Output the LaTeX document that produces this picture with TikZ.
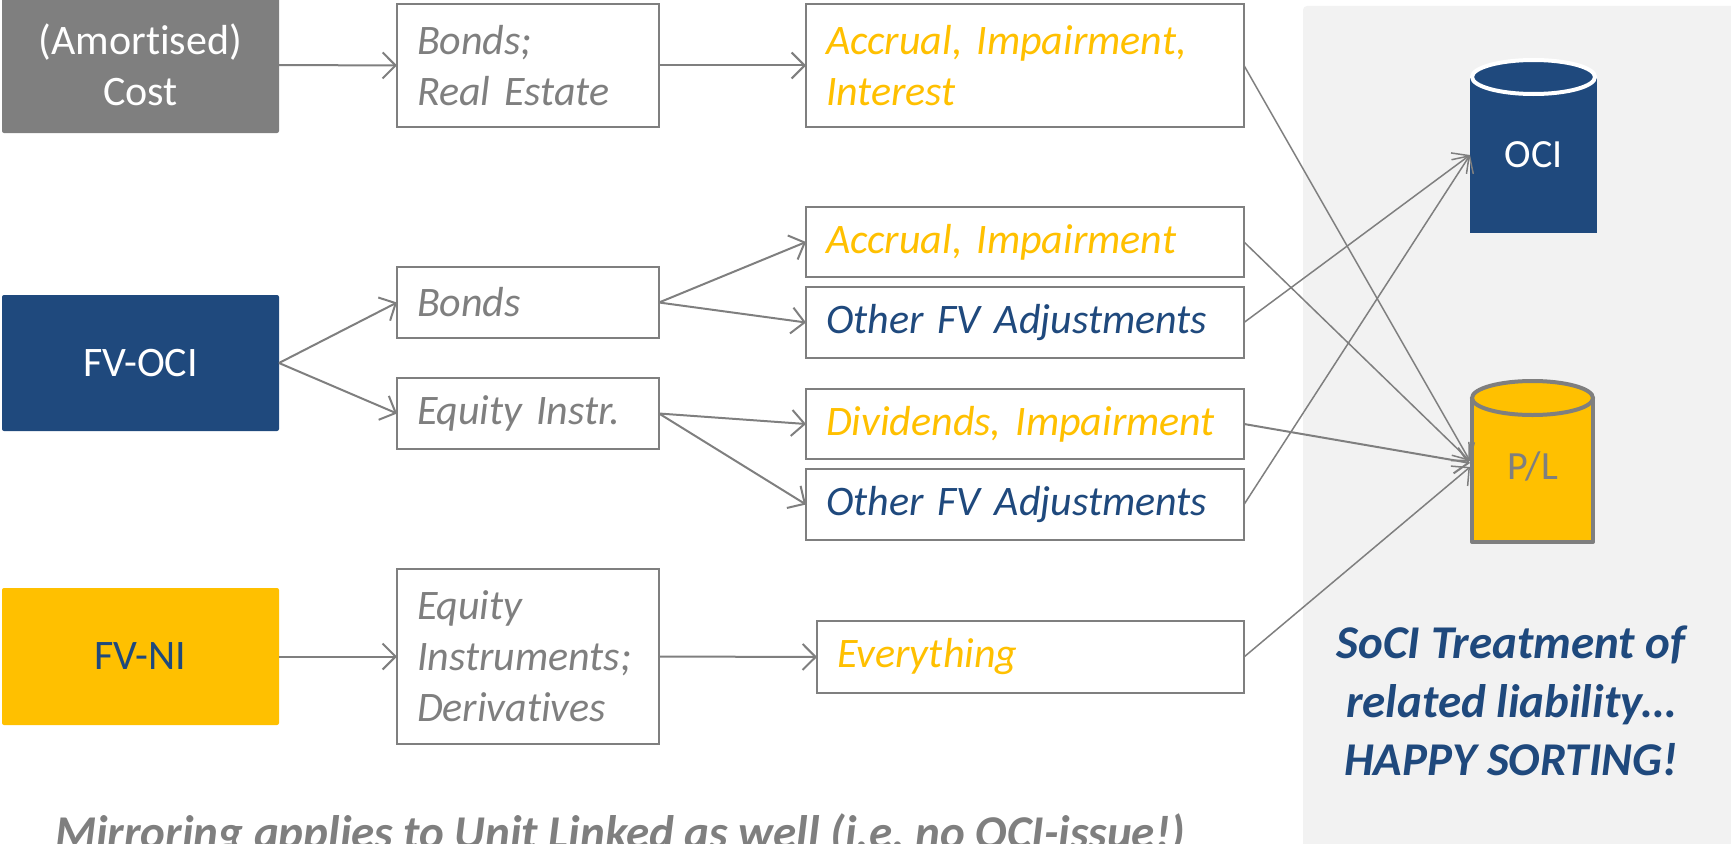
\documentclass[tikz,border=0pt]{standalone}
\usepackage{fontspec}
\setmainfont{Carlito}[Ligatures=NoCommon]
\usetikzlibrary{arrows.meta}
\definecolor{cgray}{HTML}{7F7F7F}
\definecolor{cblue}{HTML}{1F497D}
\definecolor{cyel}{HTML}{FFC000}
\definecolor{cpanel}{HTML}{F2F2F2}
\begin{document}
\frenchspacing
\begin{tikzpicture}[x=1pt,y=-1pt,
  arr/.style={draw=cgray, line width=2pt, -{Straight Barb[length=13pt,width=26pt,line width=2pt]}},
  arrthin/.style={draw=cgray, line width=1.5pt, -{Straight Barb[length=13pt,width=26pt,line width=1.5pt]}},
  catbox/.style={anchor=north west, inner sep=0pt, outer sep=0pt, minimum width=277pt, align=center, font=\fontsize{42}{51}\selectfont, rounded corners=2pt},
  wbox/.style={anchor=north west, draw=cgray, line width=2pt, fill=white, inner xsep=20pt, inner ysep=0pt, outer sep=0pt, align=left, font=\itshape\fontsize{42}{51}\selectfont},
  cyltext/.style={inner sep=0pt, outer sep=0pt, font=\fontsize{40}{48}\selectfont},
]
\useasboundingbox (0,0) rectangle (1731,843);
\clip (0,0) rectangle (1731,843);
% right panel
\fill[cpanel, rounded corners=4pt] (1303,6) rectangle (1745,860);

% category boxes
\node[catbox, fill=cgray, text=white, minimum height=136pt] (amort) at (2,-3) {(Amortised)\\Cost};
\node[catbox, fill=cblue, text=white, minimum height=136pt] (fvoci) at (2,295) {FV-OCI};
\node[catbox, fill=cyel, text=cblue, minimum height=137pt] (fvni) at (2,588) {FV-NI};

% instrument boxes
\node[wbox, text=cgray, text width=222pt, minimum height=123pt] (b1) at (397,4) {Bonds;\\Real Estate};
\node[wbox, text=cgray, text width=222pt, minimum height=71pt] (b2) at (397,267) {Bonds};
\node[wbox, text=cgray, text width=222pt, minimum height=71pt] (b3) at (397,378) {Equity Instr.};
\node[wbox, text=cgray, text width=222pt, minimum height=175pt] (b4) at (397,569) {Equity\\Instruments;\\Derivatives};

% treatment boxes
\node[wbox, text=cyel, text width=398pt, minimum height=123pt] (c1) at (806,4) {Accrual, Impairment,\\Interest};
\node[wbox, text=cyel, text width=398pt, minimum height=70pt] (c2) at (806,207) {Accrual, Impairment};
\node[wbox, text=cblue, text width=398pt, minimum height=71pt] (c3) at (806,287) {Other FV Adjustments};
\node[wbox, text=cyel, text width=398pt, minimum height=70pt] (c4) at (806,389) {Dividends, Impairment};
\node[wbox, text=cblue, text width=398pt, minimum height=71pt] (c5) at (806,469) {Other FV Adjustments};
\node[wbox, text=cyel, text width=387pt, minimum height=72pt] (c6) at (817,621) {Everything};

% OCI cylinder
\fill[cblue] (1470,77) rectangle (1597,233);
\filldraw[fill=cblue, draw=white, line width=4pt] (1533.5,77) ellipse [x radius=61.5, y radius=17];
\node[cyltext, text=white, minimum width=127pt, minimum height=156pt] (oci) at (1533.5,155) {OCI};

% P/L cylinder
\fill[cyel] (1472,398) rectangle (1593,542);
\draw[cgray, line width=4pt, line join=round] (1472,398) -- (1472,542) -- (1593,542) -- (1593,398);
\filldraw[fill=cyel, draw=cgray, line width=4pt] (1532.5,398) ellipse [x radius=60.5, y radius=17];
\node[cyltext, text=cgray, minimum width=125pt, minimum height=150pt] (pl) at (1532.5,466) {P/L};

% connectors left part
\draw[arr] (amort.east) -- (b1.west);
\draw[arr] (b1.east) -- (c1.west);
\draw[arr] (fvoci.east) -- (b2.west);
\draw[arr] (fvoci.east) -- (b3.west);
\draw[arr] (b2.east) -- (c2.west);
\draw[arr] (b2.east) -- (c3.west);
\draw[arr] (b3.east) -- (c4.west);
\draw[arr] (b3.east) -- (c5.west);
\draw[arr] (fvni.east) -- (b4.west);
\draw[arr] (b4.east) -- (c6.west);

% connectors to SoCI
\draw[arrthin] (c1.east) -- ([yshift=5pt]pl.west);
\draw[arrthin] (c2.east) -- ([yshift=5pt]pl.west);
\draw[arrthin] (c3.east) -- (oci.west);
\draw[arr] (c4.east) -- ([yshift=3pt]pl.west);
\draw[arrthin] (c5.east) -- (oci.west);
\draw[arrthin] (c6.east) -- ([yshift=-1pt]pl.west);

% texts
\node[align=center, text=cblue, inner sep=0pt, font=\bfseries\itshape\fontsize{47}{58.5}\selectfont] (soci) at (1511,701) {SoCI Treatment of\\related liability\dots\\HAPPY SORTING!};
\node[anchor=base west, text=cgray, inner sep=0pt, font=\bfseries\itshape\fontsize{47}{57}\selectfont] (mirror) at (55,848) {Mirroring applies to Unit Linked as well (i.e. no OCI-issue!)};
\end{tikzpicture}
\end{document}
